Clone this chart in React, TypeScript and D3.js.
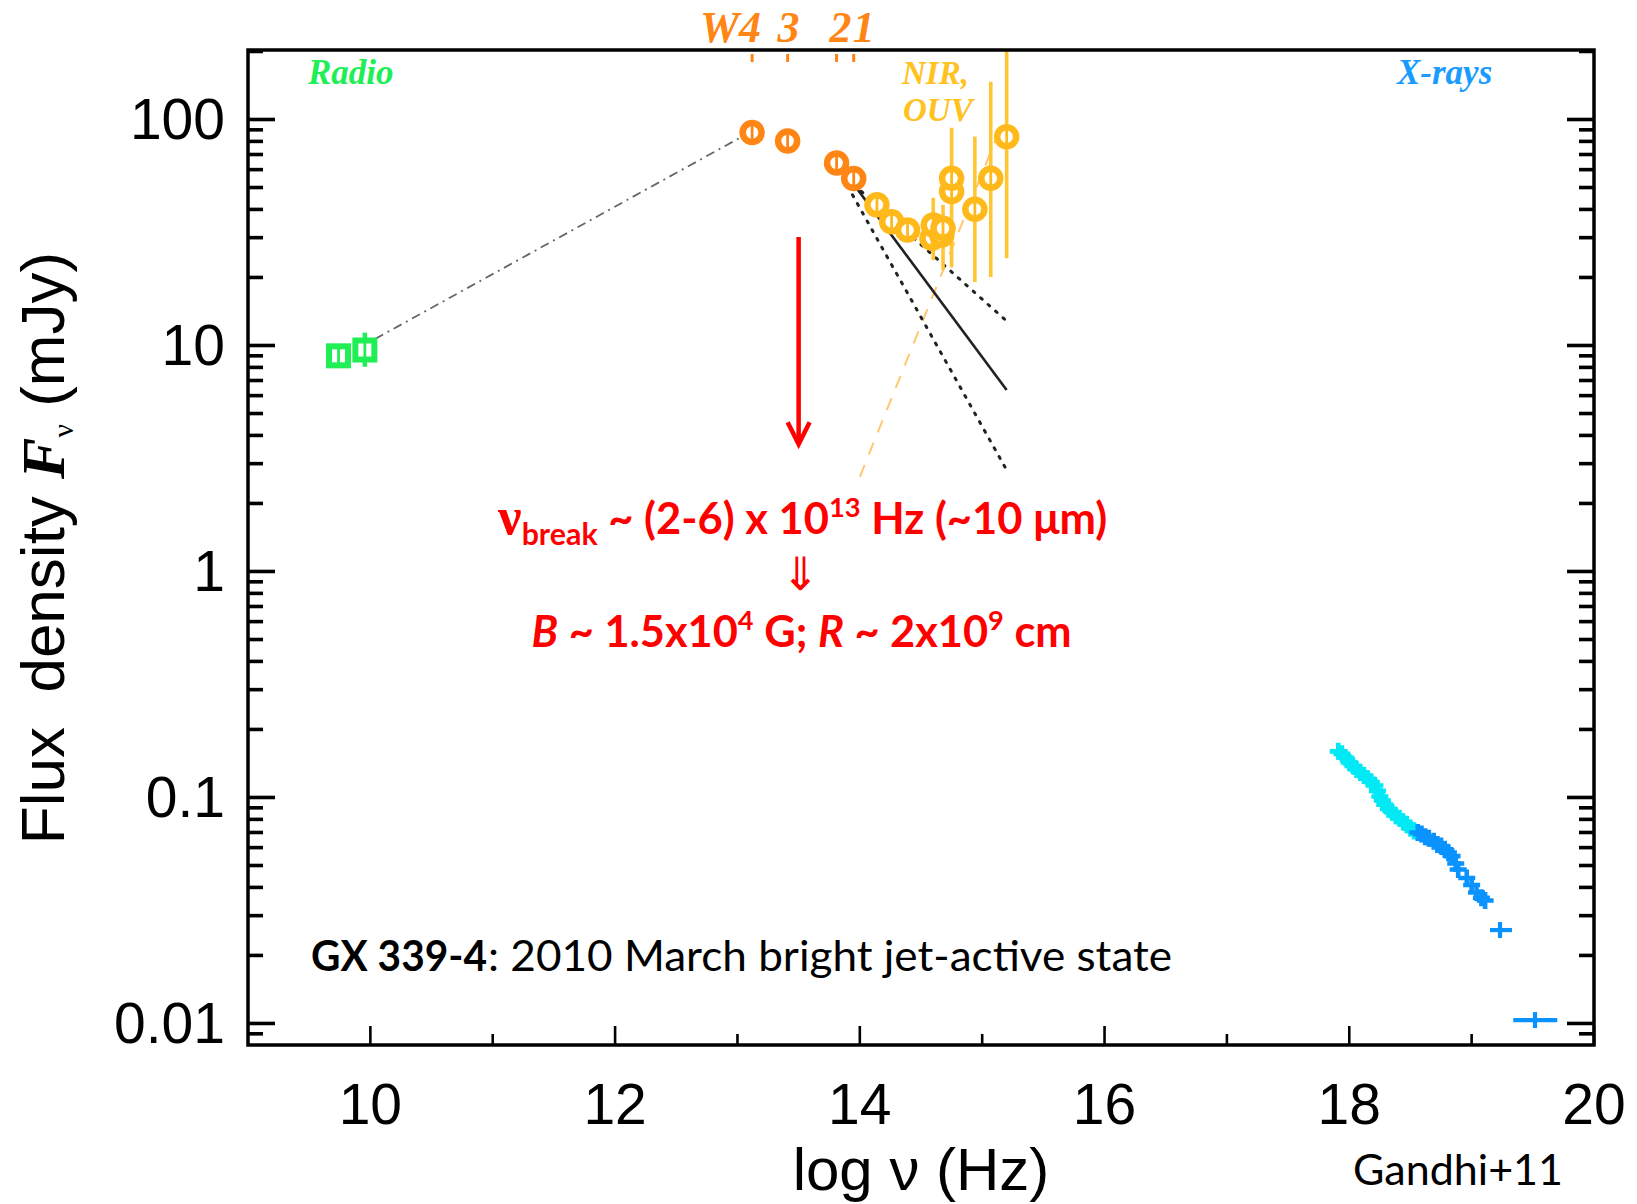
import React from 'react';
import * as d3 from 'd3';

// ---- axes ----
const X_DOMAIN: [number, number] = [9, 20];
const Y_DOMAIN: [number, number] = [0.00803, 203];
const xMajorTicks = [10, 12, 14, 16, 18, 20];
const xMinorTicks = [11, 13, 15, 17, 19];
const yMajorTicks = [0.01, 0.1, 1, 10, 100];
const yTickLabels = ['0.01', '0.1', '1', '10', '100'];

// ---- radio (ATCA) ----
const radioNu = [9.74, 9.955];
const radioFlux = [9.0, 9.55];
const radioErrLo = [NaN, 8.05];
const radioErrHi = [NaN, 11.4];

// ---- WISE mid-IR ----
const wiseBandLabels = ['W4', '3', '2', '1'];
const wiseNu = [13.12, 13.41, 13.81, 13.95];
const wiseFlux = [87.5, 80.3, 64.2, 54.8];

// ---- NIR / optical / UV ----
const oirNu = [14.14, 14.26, 14.39, 14.59, 14.6, 14.67, 14.68, 14.75, 14.75, 14.94, 15.07, 15.2];
const oirFlux = [41.9, 35.3, 32.4, 29.8, 34.1, 30.8, 33.0, 48.0, 54.9, 40.1, 54.9, 83.9];
const oirErrLo = [NaN, NaN, NaN, NaN, 23.9, NaN, 21.6, 22.2, NaN, 19.1, 20.1, 24.3];
const oirErrHi = [NaN, NaN, NaN, NaN, 45.0, NaN, 41.9, 92, NaN, 84.0, 147, 260];

// ---- X-rays (RXTE) ----
const xrayPcaNu = [17.91, 17.94, 17.97, 18.0, 18.03, 18.06, 18.09, 18.12, 18.15, 18.18, 18.21, 18.23,
  18.25, 18.27, 18.29, 18.32, 18.35, 18.38, 18.41, 18.44, 18.47, 18.5, 18.53];
const xrayPcaFlux = [0.16, 0.156, 0.15, 0.143, 0.138, 0.133, 0.129, 0.125, 0.121, 0.117, 0.113, 0.107,
  0.101, 0.097, 0.093, 0.089, 0.086, 0.083, 0.081, 0.078, 0.076, 0.073, 0.071];
const xrayHexteNu = [18.56, 18.59, 18.62, 18.65, 18.69, 18.72, 18.75, 18.78, 18.81, 18.84, 18.87, 18.89,
  18.96, 19.0, 19.04, 19.08, 19.11];
const xrayHexteFlux = [0.07, 0.069, 0.067, 0.066, 0.064, 0.062, 0.061, 0.059, 0.057, 0.055, 0.051, 0.048,
  0.044, 0.041, 0.038, 0.036, 0.035];
const xrayBinNu = [19.232, 19.518];
const xrayBinFlux = [0.0259, 0.01035];
const xrayBinNuLo = [19.15, 19.34];
const xrayBinNuHi = [19.33, 19.7];

// ---- model lines ----
const radioToMirNu = [10.04, 13.07];
const radioToMirFlux = [10.7, 85.9];
const thinFitNu = [13.974, 15.2];
const thinFitFlux = [49.6, 6.36];
const thinUpperNu = [13.89, 15.19];
const thinUpperFlux = [55.1, 12.97];
const thinLowerNu = [13.94, 15.2];
const thinLowerFlux = [46.4, 2.81];
const diskNu = [14.0, 15.15];
const diskFlux = [2.62, 92];

// ---- break-frequency arrow ----
const breakNu = 13.5;
const breakArrowFlux = [30.2, 3.66];

const GREEN = '#20EE55';
const ORANGE = '#FF8515';
const YELLOW = '#FFB91A';
const YELLOW_BAR = '#FFC533';
const CYAN = '#00E9F5';
const BLUE = '#0A93FF';
const RED = '#FF0000';

const SANS = "'Liberation Sans', Arial, Helvetica, sans-serif";
const SERIF = "'Liberation Serif', 'Times New Roman', serif";
const HUMAN = "Lato, 'Open Sans', sans-serif";

export default function App() {
  const x = d3.scaleLinear().domain(X_DOMAIN).range([248, 1594]);
  const y = d3.scaleLog().domain(Y_DOMAIN).range([1045, 50]);
  const [x0, x1] = x.range();
  const [yb, yt] = y.range();

  const yMinor: number[] = [];
  for (let e = -3; e <= 2; e++) {
    for (let k = 2; k <= 9; k++) {
      const v = k * Math.pow(10, e);
      if (v >= Y_DOMAIN[0] && v <= Y_DOMAIN[1]) yMinor.push(v);
    }
  }

  const line = d3
    .line<[number, number]>()
    .x((d) => x(d[0]))
    .y((d) => y(d[1]));
  const pts = (nu: number[], f: number[]) => nu.map((n, i) => [n, f[i]] as [number, number]);

  const cross = (cx: number, cy: number, color: string, key: string, s = 8.5) => (
    <path key={key} d={`M${cx - s},${cy}H${cx + s}M${cx},${cy - s}V${cy + s}`} stroke={color} strokeWidth={4.6} fill="none" />
  );

  const ringMarker = (cx: number, cy: number, color: string, key: string) => (
    <g key={key}>
      <circle cx={cx} cy={cy} r={9.5} fill="#fff" stroke={color} strokeWidth={6.5} />
      <line x1={cx} x2={cx} y1={cy - 9.5} y2={cy + 9.5} stroke={color} strokeWidth={2.8} />
    </g>
  );

  const arrowX = x(breakNu);
  const arrowTop = y(breakArrowFlux[0]);
  const arrowTip = y(breakArrowFlux[1]);

  return (
    <svg
      width={1637}
      height={1204}
      viewBox="0 0 1637 1204"
      style={{ position: 'absolute', left: 0, top: 0, background: '#fff' }}
    >
      <rect x={0} y={0} width={1637} height={1204} fill="#fff" />

      {/* model lines */}
      <path d={line(pts(radioToMirNu, radioToMirFlux)) || ''} stroke="#666" strokeWidth={1.8} strokeDasharray="9 5 2 5" fill="none" />
      <path d={line(pts(diskNu, diskFlux)) || ''} stroke="#FFC870" strokeWidth={2} strokeDasharray="13 11" fill="none" />
      <path d={line(pts(thinUpperNu, thinUpperFlux)) || ''} stroke="#222" strokeWidth={3} strokeDasharray="2 8" strokeLinecap="round" fill="none" />
      <path d={line(pts(thinLowerNu, thinLowerFlux)) || ''} stroke="#222" strokeWidth={3} strokeDasharray="2 8" strokeLinecap="round" fill="none" />
      <path d={line(pts(thinFitNu, thinFitFlux)) || ''} stroke="#222" strokeWidth={2.6} fill="none" />

      {/* radio */}
      {radioNu.map((n, i) =>
        isNaN(radioErrLo[i]) ? null : (
          <line key={`re${i}`} x1={x(n)} x2={x(n)} y1={y(radioErrLo[i])} y2={y(radioErrHi[i])} stroke={GREEN} strokeWidth={4.5} />
        )
      )}
      {radioNu.map((n, i) => (
        <g key={`r${i}`}>
          <rect x={x(n) - 9.5} y={y(radioFlux[i]) - 9.5} width={19} height={19} fill="#fff" stroke={GREEN} strokeWidth={6} />
          <line x1={x(n)} x2={x(n)} y1={y(radioFlux[i]) - 9.5} y2={y(radioFlux[i]) + 9.5} stroke={GREEN} strokeWidth={2.8} />
        </g>
      ))}

      {/* OIR error bars then markers */}
      {oirNu.map((n, i) =>
        isNaN(oirErrLo[i]) ? null : (
          <line
            key={`oe${i}`}
            x1={x(n)}
            x2={x(n)}
            y1={y(oirErrLo[i])}
            y2={Math.max(y(Math.min(oirErrHi[i], Y_DOMAIN[1])), yt)}
            stroke={YELLOW_BAR}
            strokeWidth={3.6}
          />
        )
      )}
      {oirNu.map((n, i) => ringMarker(x(n), y(oirFlux[i]), YELLOW, `o${i}`))}
      {wiseNu.map((n, i) => ringMarker(x(n), y(wiseFlux[i]), ORANGE, `w${i}`))}

      {/* X-rays */}
      {xrayPcaNu.map((n, i) => cross(x(n), y(xrayPcaFlux[i]), CYAN, `p${i}`))}
      {xrayHexteNu.map((n, i) => cross(x(n), y(xrayHexteFlux[i]), BLUE, `h${i}`))}
      {xrayBinNu.map((n, i) => (
        <g key={`b${i}`}>
          <line x1={x(xrayBinNuLo[i])} x2={x(xrayBinNuHi[i])} y1={y(xrayBinFlux[i])} y2={y(xrayBinFlux[i])} stroke={BLUE} strokeWidth={4.2} />
          <line x1={x(n)} x2={x(n)} y1={y(xrayBinFlux[i]) - 8} y2={y(xrayBinFlux[i]) + 8} stroke={BLUE} strokeWidth={4.2} />
        </g>
      ))}

      {/* frame and ticks */}
      <g stroke="#000" fill="none">
        <rect x={x0} y={yt} width={x1 - x0} height={yb - yt} strokeWidth={3.5} />
        {yMajorTicks.map((v) => (
          <g key={`ym${v}`} strokeWidth={3.6}>
            <line x1={x0} x2={x0 + 27} y1={y(v)} y2={y(v)} />
            <line x1={x1} x2={x1 - 27} y1={y(v)} y2={y(v)} />
          </g>
        ))}
        {yMinor.map((v) => (
          <g key={`yn${v}`} strokeWidth={3.6}>
            <line x1={x0} x2={x0 + 15} y1={y(v)} y2={y(v)} />
            <line x1={x1} x2={x1 - 15} y1={y(v)} y2={y(v)} />
          </g>
        ))}
        {xMajorTicks.map((v) => (
          <line key={`xm${v}`} x1={x(v)} x2={x(v)} y1={yb} y2={yb - 19} strokeWidth={2.6} />
        ))}
        {xMinorTicks.map((v) => (
          <line key={`xn${v}`} x1={x(v)} x2={x(v)} y1={yb} y2={yb - 11} strokeWidth={2.6} />
        ))}
        {wiseNu.map((n) => (
          <line key={`wt${n}`} x1={x(n)} x2={x(n)} y1={yt + 4} y2={yt + 12} stroke={ORANGE} strokeWidth={3} />
        ))}
      </g>

      {/* tick labels */}
      {xMajorTicks.map((v) => (
        <text key={`xl${v}`} x={x(v)} y={1124} textAnchor="middle" fontFamily={SANS} fontSize={57} fill="#000">
          {v}
        </text>
      ))}
      {yMajorTicks.map((v, i) => (
        <text key={`yl${v}`} x={225} y={y(v) + 20} textAnchor="end" fontFamily={SANS} fontSize={57} fill="#000">
          {yTickLabels[i]}
        </text>
      ))}

      {/* axis titles */}
      <text x={921} y={1190} textAnchor="middle" fontFamily={SANS} fontSize={60} fill="#000">
        log ν (Hz)
      </text>
      <text
        transform="translate(64,548) rotate(-90)"
        textAnchor="middle"
        fontFamily={SANS}
        fontSize={62}
        fill="#000"
        style={{ whiteSpace: 'pre' }}
      >
        {'Flux  density '}
        <tspan fontFamily={SERIF} fontStyle="italic" fontWeight="bold">F</tspan>
        <tspan fontFamily={SERIF} fontSize={30} dy={9}>ν</tspan>
        <tspan dy={-9}>{' (mJy)'}</tspan>
      </text>

      {/* band labels */}
      <text x={308} y={84} fontFamily={SERIF} fontStyle="italic" fontWeight="bold" fontSize={35} fill={GREEN}>Radio</text>
      <text x={902} y={84} fontFamily={SERIF} fontStyle="italic" fontWeight="bold" fontSize={33} fill="#FFC21F">NIR,</text>
      <text x={903} y={121} fontFamily={SERIF} fontStyle="italic" fontWeight="bold" fontSize={33} fill="#FFC21F">OUV</text>
      <text x={1397} y={84} fontFamily={SERIF} fontStyle="italic" fontWeight="bold" fontSize={35} fill="#1A9CFF">X-rays</text>
      <text fontFamily={SERIF} fontStyle="italic" fontWeight="bold" fontSize={44} fill={ORANGE}>
        <tspan x={x(wiseNu[0]) + 9} y={42} textAnchor="end">{wiseBandLabels[0]}</tspan>
        <tspan x={x(wiseNu[1]) + 1} y={42} textAnchor="middle">{wiseBandLabels[1]}</tspan>
        <tspan x={x(wiseNu[2]) + 4} y={42} textAnchor="middle">{wiseBandLabels[2]}</tspan>
        <tspan x={x(wiseNu[3]) + 10} y={42} textAnchor="middle">{wiseBandLabels[3]}</tspan>
      </text>

      {/* break frequency annotation */}
      <line x1={arrowX} x2={arrowX} y1={arrowTop} y2={arrowTip - 2} stroke={RED} strokeWidth={4.5} />
      <polyline
        points={`${arrowX - 11},${arrowTip - 22} ${arrowX},${arrowTip} ${arrowX + 11},${arrowTip - 22}`}
        stroke={RED}
        strokeWidth={4.5}
        fill="none"
      />
      <text
        x={arrowX + 4}
        y={534}
        textAnchor="middle"
        fontFamily={HUMAN}
        fontWeight="bold"
        fontSize={43}
        fill={RED}
        textLength={609}
        lengthAdjust="spacingAndGlyphs"
        style={{ whiteSpace: 'pre' }}
      >
        <tspan fontFamily={SERIF} fontSize={52}>ν</tspan>
        <tspan fontSize={30} dy={11}>break</tspan>
        <tspan dy={-11}>{' ~ (2-6) x 10'}</tspan>
        <tspan fontSize={27} dy={-17}>13</tspan>
        <tspan dy={17}>{' Hz (~10 μm)'}</tspan>
      </text>
      <text x={arrowX + 2} y={590} textAnchor="middle" fontFamily="'DejaVu Sans', sans-serif" fontSize={46} fill={RED}>
        ⇓
      </text>
      <text
        x={arrowX + 3}
        y={647}
        textAnchor="middle"
        fontFamily={HUMAN}
        fontWeight="bold"
        fontSize={43}
        fill={RED}
        textLength={540}
        lengthAdjust="spacingAndGlyphs"
        style={{ whiteSpace: 'pre' }}
      >
        <tspan fontStyle="italic">B</tspan>
        <tspan>{' ~ 1.5x10'}</tspan>
        <tspan fontSize={27} dy={-17}>4</tspan>
        <tspan dy={17}>{' G; '}</tspan>
        <tspan fontStyle="italic">R</tspan>
        <tspan>{' ~ 2x10'}</tspan>
        <tspan fontSize={27} dy={-17}>9</tspan>
        <tspan dy={17}>{' cm'}</tspan>
      </text>

      {/* source caption and reference */}
      <text x={311} y={971} fontFamily={HUMAN} fontWeight="bold" fontSize={42} fill="#000" textLength={176} lengthAdjust="spacingAndGlyphs">
        GX 339-4
      </text>
      <text x={488} y={971} fontFamily={HUMAN} fontSize={42} fill="#000" textLength={684} lengthAdjust="spacingAndGlyphs">
        : 2010 March bright jet-active state
      </text>
      <text x={1353} y={1185} fontFamily={HUMAN} fontSize={42} fill="#000" textLength={210} lengthAdjust="spacingAndGlyphs">
        Gandhi+11
      </text>
    </svg>
  );
}
